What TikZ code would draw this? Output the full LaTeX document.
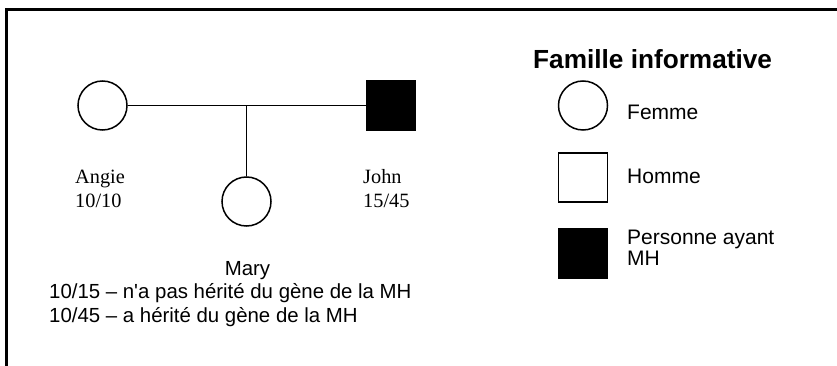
\documentclass[tikz,border=0pt]{standalone}
\usepackage{fontspec}
\setmainfont{Liberation Serif}
\setsansfont{Liberation Sans}
\newfontfamily\rawsans{Liberation Sans}[Ligatures=ResetAll]
\begin{document}
\begin{tikzpicture}[x=1pt,y=-1pt,
  person/.style={draw=black,line width=1.5pt,minimum size=49pt,inner sep=0pt,fill=white},
  fem/.style={person,circle},
  male/.style={person,rectangle},
  affected/.style={person,rectangle,fill=black},
  link/.style={line width=1.5pt},
  serlab/.style={anchor=base west,inner sep=0pt,font=\fontsize{20.3}{23}\selectfont\rmfamily},
  sanslab/.style={anchor=base west,inner sep=0pt,font=\fontsize{20.4}{23}\selectfont\rawsans},
  leglab/.style={anchor=base west,inner sep=0pt,font=\fontsize{21}{23}\selectfont\sffamily},
  titlelab/.style={anchor=base west,inner sep=0pt,font=\fontsize{26.2}{30}\selectfont\sffamily\bfseries}
]
\useasboundingbox (0,0) rectangle (837,366);
\draw[line width=3pt,line join=miter] (6,366) -- (6,9.5) -- (837,9.5);

% pedigree
\node[fem] (angie) at (102.5,105.5) {};
\node[affected] (john) at (391,105.5) {};
\node[fem] (mary) at (246.5,201.5) {};
\coordinate (mid) at (246.5,105.5);
\draw[link] (angie.east) -- (john.west);
\draw[link] (mid) -- (mary.north);

\node[serlab] (angiename) at (75,183) {Angie};
\node[serlab] (angieval) at (75,207) {10/10};
\node[serlab] (johnname) at (363,183) {John};
\node[serlab] (johnval) at (363,207) {15/45};

\node[anchor=base,inner sep=0pt,font=\fontsize{20.4}{23}\selectfont\sffamily] (maryname) at (247.5,275) {Mary};
\node[sanslab] (maryl1) at (49,298) {10/15 – n'a pas hérité du gène de la MH};
\node[sanslab] (maryl2) at (49,322) {10/45 – a hérité du gène de la MH};

% legend
\node[titlelab] (title) at (533,69) {Famille informative};
\node[fem] (legf) at (583,105.5) {};
\node[male] (legm) at (583,177.5) {};
\node[affected] (lega) at (583,253.5) {};
\node[leglab] (legftext) at (627,120) {Femme};
\node[leglab] (legmtext) at (627,183) {Homme};
\node[leglab] (legatext1) at (627,244) {Personne ayant};
\node[leglab] (legatext2) at (627,265) {MH};
\end{tikzpicture}
\end{document}
